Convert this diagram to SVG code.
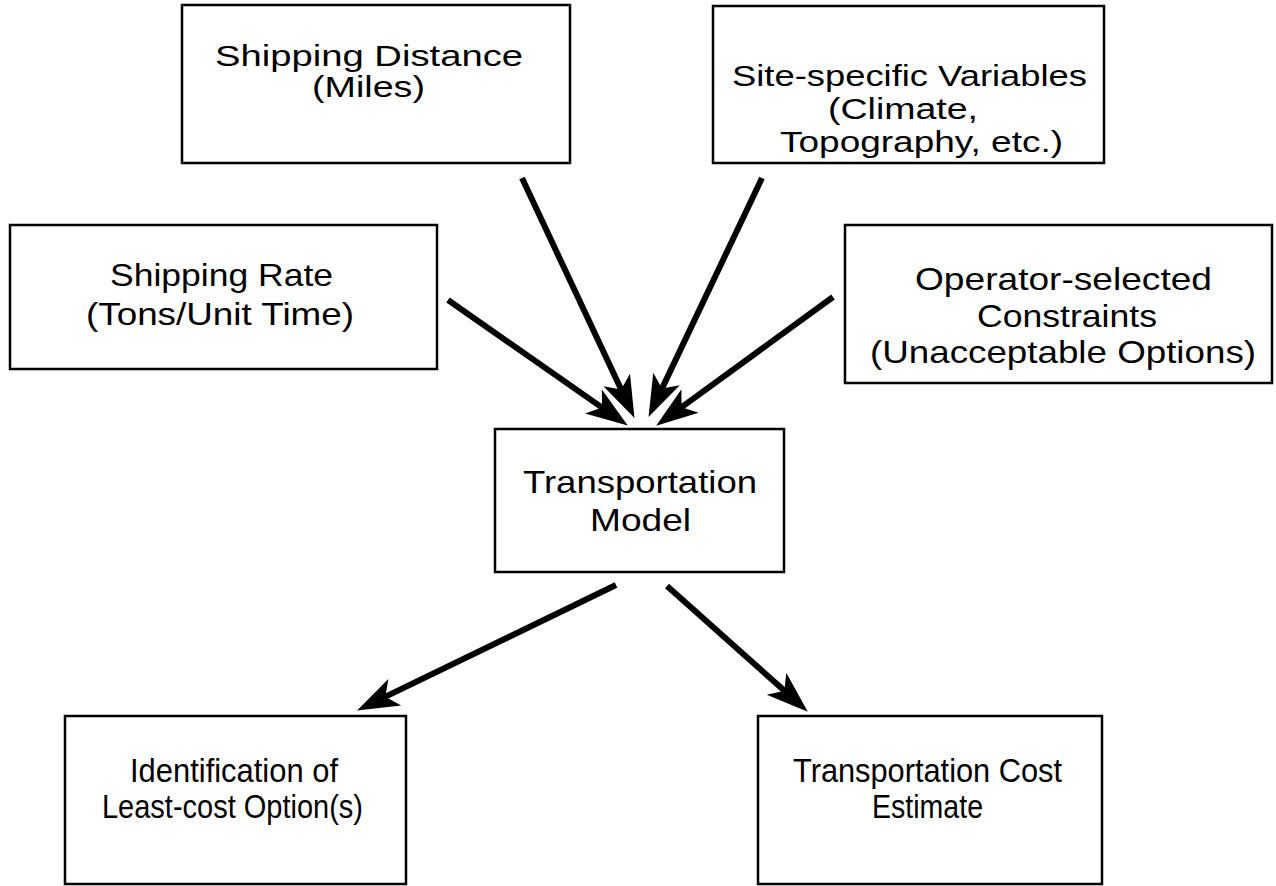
<svg xmlns="http://www.w3.org/2000/svg" width="1276" height="886" viewBox="0 0 1276 886">
<style>
.box{fill:#fff;stroke:#000;stroke-width:2.5}
.t{font-family:"Liberation Sans",Arial,sans-serif;fill:#000}
.s29{font-size:29px}
.s32{font-size:32px}
.s33{font-size:33px}
.c{stroke:#000;stroke-width:6;fill:none;marker-end:url(#ah)}
</style>
<defs>
<marker id="ah" markerUnits="userSpaceOnUse" markerWidth="44" markerHeight="34" viewBox="0 -16 42 32" refX="18" refY="0" orient="auto">
<path d="M40,0 L0,-14 L10,0 L0,14 Z" fill="#000"/>
</marker>
</defs>
<rect width="1276" height="886" fill="#fff"/>
<g id="distance">
<rect class="box" x="182" y="5" width="388" height="158"/>
<text class="t s29" x="215" y="66" textLength="308" lengthAdjust="spacingAndGlyphs">Shipping Distance</text>
<text class="t s29" x="312" y="97" textLength="113" lengthAdjust="spacingAndGlyphs">(Miles)</text>
</g>
<g id="site">
<rect class="box" x="713" y="6" width="391" height="157"/>
<text class="t s29" x="732" y="86" textLength="355" lengthAdjust="spacingAndGlyphs">Site-specific Variables</text>
<text class="t s29" x="828" y="119" textLength="150" lengthAdjust="spacingAndGlyphs">(Climate,</text>
<text class="t s29" x="780" y="152" textLength="283" lengthAdjust="spacingAndGlyphs">Topography, etc.)</text>
</g>
<g id="rate">
<rect class="box" x="10" y="225" width="427" height="144"/>
<text class="t s32" x="110" y="286" textLength="223" lengthAdjust="spacingAndGlyphs">Shipping Rate</text>
<text class="t s32" x="86" y="325" textLength="268" lengthAdjust="spacingAndGlyphs">(Tons/Unit Time)</text>
</g>
<g id="operator">
<rect class="box" x="845" y="225" width="427" height="158"/>
<text class="t s32" x="915" y="290" textLength="297" lengthAdjust="spacingAndGlyphs">Operator-selected</text>
<text class="t s32" x="977" y="327" textLength="180" lengthAdjust="spacingAndGlyphs">Constraints</text>
<text class="t s32" x="870" y="363" textLength="386" lengthAdjust="spacingAndGlyphs">(Unacceptable Options)</text>
</g>
<g id="model">
<rect class="box" x="495" y="429" width="289" height="143"/>
<text class="t s32" x="523" y="493" textLength="234" lengthAdjust="spacingAndGlyphs">Transportation</text>
<text class="t s32" x="590" y="531" textLength="101" lengthAdjust="spacingAndGlyphs">Model</text>
</g>
<g id="leastcost">
<rect class="box" x="65" y="716" width="341" height="168"/>
<text class="t s33" x="130" y="782" textLength="208" lengthAdjust="spacingAndGlyphs">Identification of</text>
<text class="t s33" x="102" y="818" textLength="261" lengthAdjust="spacingAndGlyphs">Least-cost Option(s)</text>
</g>
<g id="estimate">
<rect class="box" x="758" y="716" width="344" height="168"/>
<text class="t s33" x="793" y="782" textLength="269" lengthAdjust="spacingAndGlyphs">Transportation Cost</text>
<text class="t s33" x="872" y="818" textLength="111" lengthAdjust="spacingAndGlyphs">Estimate</text>
</g>
<g id="connectors">
<line class="c" x1="522" y1="178" x2="624.7" y2="397.1"/>
<line class="c" x1="762" y1="178" x2="658.4" y2="396.1"/>
<line class="c" x1="448" y1="300" x2="608.9" y2="412.4"/>
<line class="c" x1="833" y1="297" x2="674.8" y2="412.1"/>
<line class="c" x1="616" y1="585" x2="377.8" y2="700.4"/>
<line class="c" x1="667" y1="586" x2="790.6" y2="696.3"/>
</g>
</svg>
